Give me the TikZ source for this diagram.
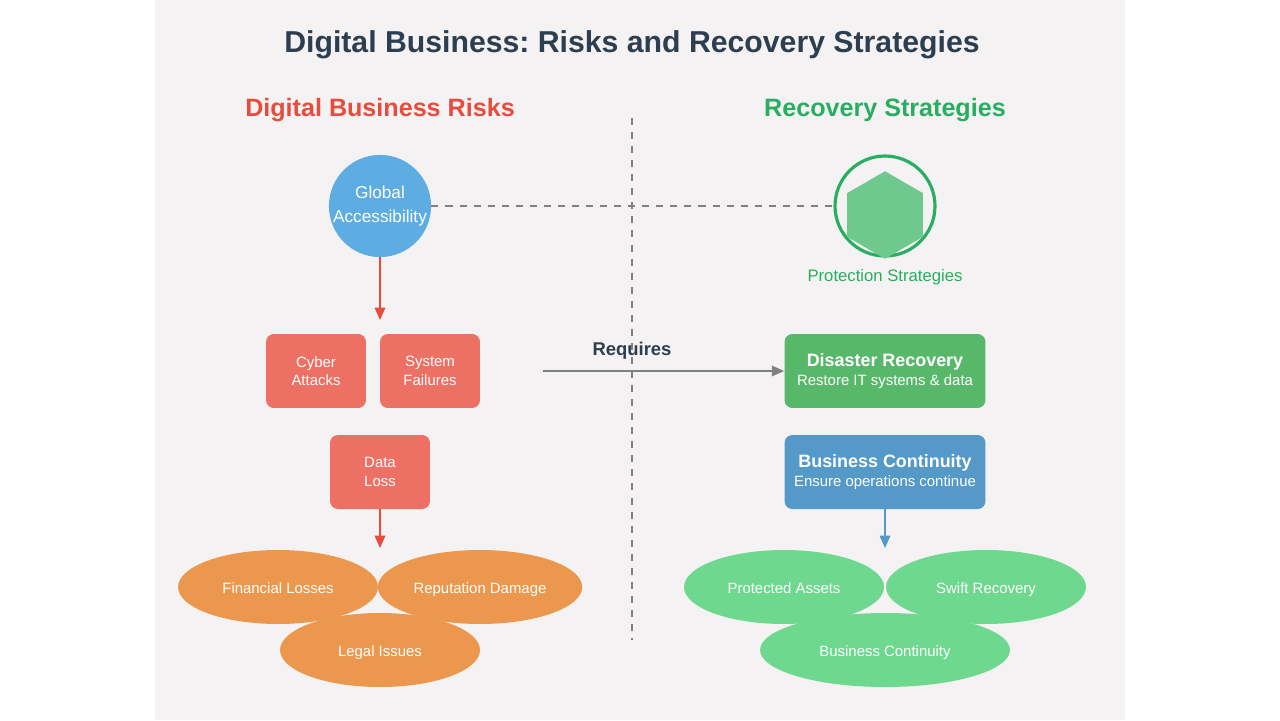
\documentclass[tikz,border=0pt]{standalone}
\usepackage{fontspec}
\setmainfont{Liberation Sans}
\frenchspacing
\usetikzlibrary{shapes.geometric,arrows.meta,positioning}
\definecolor{panel}{HTML}{F4F2F2}
\definecolor{ink}{HTML}{2C3E50}
\definecolor{riskred}{HTML}{E74C3C}
\definecolor{boxred}{HTML}{EC7063}
\definecolor{okgreen}{HTML}{27AE60}
\definecolor{boxgreen}{HTML}{58B86A}
\definecolor{boxblue}{HTML}{5499C7}
\definecolor{circblue}{HTML}{5DADE2}
\definecolor{ovorange}{HTML}{EB984E}
\definecolor{ovgreen}{HTML}{6ED88F}
\definecolor{hexgreen}{HTML}{6FC98F}
\begin{document}
\begin{tikzpicture}[x=0.02cm,y=-0.02cm,
    riskbox/.style={rectangle, rounded corners=4.5pt, fill=boxred, text=white, minimum width=2cm, minimum height=1.48cm, align=center, font=\fontsize{8.5}{10.5}\selectfont},
    stratbox/.style={rectangle, rounded corners=4.5pt, text=white, minimum width=4.02cm, minimum height=1.48cm, align=center, font=\fontsize{8.5}{11}\selectfont},
    outcome/.style={ellipse, text=white, minimum width=4cm, minimum height=1.48cm, text height=1.6ex, text depth=0.3ex, font=\fontsize{8.5}{10}\selectfont},
    header/.style={font=\bfseries\fontsize{14.3}{17}\selectfont},
    arrow/.style={-{Triangle[length=7pt,width=6pt]}, thick}
]
    % Background
    \fill[white] (0,0) rectangle (1280,720);
    \fill[panel] (155,0) rectangle (1125,720);
    \node[font=\bfseries\fontsize{17.2}{20}\selectfont, text=ink] (title) at (632,45) {Digital Business: Risks and Recovery Strategies};
    \node[header, text=riskred] (riskhead) at (380,110) {Digital Business Risks};
    \node[header, text=okgreen] (recohead) at (885,110) {Recovery Strategies};
    \coordinate (divtop) at (632,118);
    \coordinate (divbot) at (632,640);
    \draw[gray, thick, dash pattern=on 4pt off 4pt] (divtop) -- (divbot);

    % Top circles
    \node[circle, fill=circblue, minimum size=2cm, inner sep=0pt, text=white, align=center, font=\fontsize{9.8}{14}\selectfont] (global) at (380,206) {Global\\Accessibility};
    \node[circle, draw=okgreen, line width=1.8pt, minimum size=2cm] (protect) at (885,206) {};
    \node[regular polygon, regular polygon sides=6, shape border rotate=30, fill=hexgreen, minimum size=1.75cm, inner sep=0pt] (hex) at (885,215) {};
    \node[text=okgreen, font=\fontsize{9.5}{11}\selectfont] (protlabel) at (885,277) {Protection Strategies};
    \draw[gray, thick, dash pattern=on 4pt off 4pt] (global) -- (protect);

    % Risks
    \node[riskbox] (cyber) at (316,371) {Cyber\\Attacks};
    \node[riskbox] (failure) at (430,371) {System\\Failures};
    \node[riskbox] (loss) at (380,472) {Data\\Loss};
    \coordinate (riskin) at (380,320);
    \coordinate (lossout) at (380,548);
    \draw[arrow, riskred] (global) -- (riskin);
    \draw[arrow, riskred] (loss) -- (lossout);
    \node[outcome, fill=ovorange] (financial) at (278,587) {Financial Losses};
    \node[outcome, fill=ovorange] (reputation) at (480,587) {Reputation Damage};
    \node[outcome, fill=ovorange] (legal) at (380,650) {Legal Issues};

    % Strategies
    \node[stratbox, fill=boxgreen] (disaster) at (885,371) {{\bfseries\fontsize{10.2}{13}\selectfont Disaster Recovery}\\Restore IT systems \& data};
    \node[stratbox, fill=boxblue] (continuity) at (885,472) {{\bfseries\fontsize{10.2}{13}\selectfont Business Continuity}\\Ensure operations continue};
    \coordinate (reqstart) at (543,371);
    \draw[arrow, gray] (reqstart) -- (disaster);
    \node[text=ink, font=\bfseries\fontsize{10.5}{12}\selectfont] (requires) at (632,351) {Requires};
    \coordinate (contout) at (885,548);
    \draw[arrow, boxblue] (continuity) -- (contout);
    \node[outcome, fill=ovgreen] (assets) at (784,587) {Protected Assets};
    \node[outcome, fill=ovgreen] (swift) at (986,587) {Swift Recovery};
    \node[outcome, fill=ovgreen, minimum width=5cm] (buscont) at (885,650) {Business Continuity};
\end{tikzpicture}
\end{document}
